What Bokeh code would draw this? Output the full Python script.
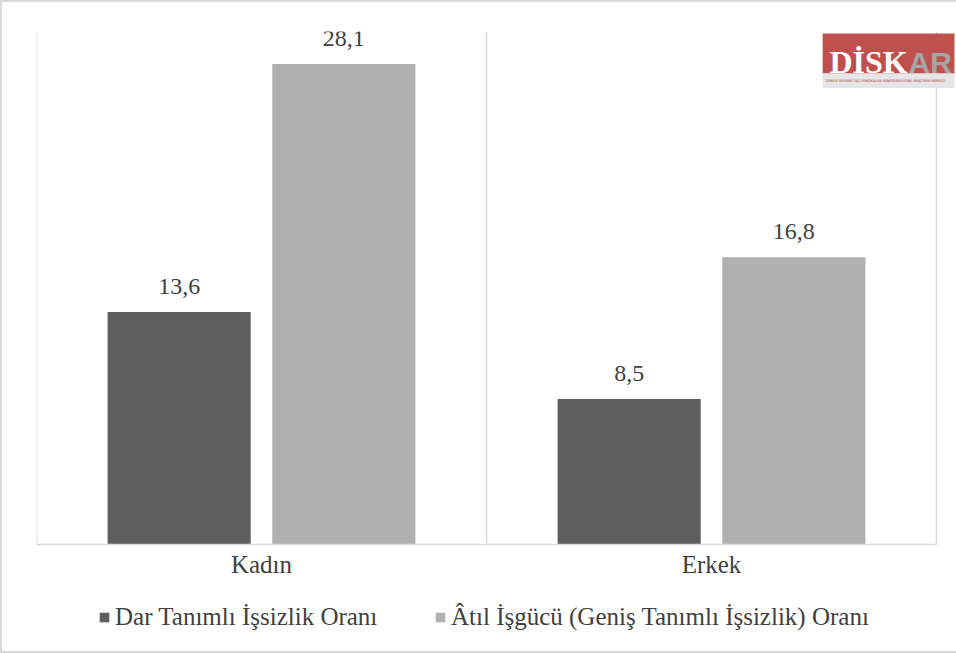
from bokeh.plotting import figure
from bokeh.models import Range1d, FixedTicker, ColumnDataSource, LabelSet, Legend, LegendItem, Label
from bokeh.transform import dodge
from bokeh.core.properties import value
from bokeh.embed import file_html
from bokeh.resources import INLINE

categories = ["Kadın", "Erkek"]
dar = [13.6, 8.5]
atil = [28.1, 16.8]
series_names = ["Dar Tanımlı İşsizlik Oranı", "Âtıl İşgücü (Geniş Tanımlı İşsizlik) Oranı"]

FONT = "Liberation Serif"
DARK = "#5e5e5e"
LIGHT = "#b0b0b0"
TXT = "#404040"
GRID = "#d9d9d9"

n = len(categories)
xs = [i + 0.5 for i in range(n)]
src = ColumnDataSource(dict(
    x=xs, dar=dar, atil=atil,
    dar_lbl=[f"{v:.1f}".replace(".", ",") for v in dar],
    atil_lbl=[f"{v:.1f}".replace(".", ",") for v in atil],
))

YMAX = 30
p = figure(frame_width=918, frame_height=620, output_backend="svg", toolbar_location=None,
           x_range=Range1d(0, n + 0.04), y_range=Range1d(-6.26, YMAX),
           min_border_left=34, min_border_right=2, min_border_top=29, min_border_bottom=0)
p.outline_line_color = None
p.background_fill_color = "white"
p.border_fill_color = "white"
p.styles = {"border-left": f"2px solid {GRID}", "border-top": f"2px solid {GRID}",
            "border-bottom": f"2px solid {GRID}"}
p.xgrid.grid_line_color = None
p.ygrid.grid_line_color = None
p.yaxis.visible = False

# category separators
seps = list(range(n + 1))
p.segment(x0=seps, x1=seps, y0=[0] * len(seps), y1=[YMAX] * len(seps), line_color=GRID, line_width=1.5)

W = 0.318
OFF = 0.183
r1 = p.vbar(x=dodge("x", -OFF, range=p.x_range), top="dar", width=W, source=src,
            fill_color=DARK, line_color=None)
r2 = p.vbar(x=dodge("x", OFF, range=p.x_range), top="atil", width=W, source=src,
            fill_color=LIGHT, line_color=None)

for col, off in (("dar", -OFF), ("atil", OFF)):
    ls = LabelSet(x=dodge("x", off, range=p.x_range), y=col, text=col + "_lbl", source=src,
                  text_align="center", text_baseline="alphabetic", y_offset=18,
                  text_font=value(FONT), text_font_size="24px", text_color=TXT)
    p.add_layout(ls)

ax = p.xaxis[0]
ax.fixed_location = 0
ax.bounds = (0, n)
ax.ticker = FixedTicker(ticks=xs)
ax.major_label_overrides = {x: c for x, c in zip(xs, categories)}
ax.axis_line_color = GRID
ax.axis_line_width = 1.5
ax.major_tick_line_color = None
ax.minor_tick_line_color = None
ax.major_label_text_font = FONT
ax.major_label_text_font_size = "25px"
ax.major_label_text_color = TXT
ax.major_label_standoff = 1

# logo
p.quad(left=[1.747], right=[2.1], bottom=[27.54], top=[29.88], fill_color="#c0504d", line_color=None)
p.quad(left=[1.747], right=[2.1], bottom=[26.7], top=[27.54], fill_color="#e6e6e6", line_color=None)
p.add_layout(Label(x=1.762, y=28.19, text="DİSK", text_font="Liberation Serif", text_font_style="bold",
                   text_font_size="32px", text_color="white", text_baseline="alphabetic"))
p.add_layout(Label(x=1.938, y=28.19, text="AR", text_font="Liberation Sans", text_font_style="bold",
                   text_font_size="30px", text_color="#a6a6a6", text_baseline="alphabetic"))
p.add_layout(Label(x=1.752, y=27.12, text="TÜRKİYE DEVRİMCİ İŞÇİ SENDİKALARI KONFEDERASYONU ARAŞTIRMA MERKEZİ",
                   text_font="DejaVu Sans Condensed",
                   text_font_size="3.4px", text_color="#a03a38", text_baseline="middle"))

legend = Legend(items=[LegendItem(label=series_names[0], renderers=[r1]),
                       LegendItem(label=series_names[1], renderers=[r2])],
                orientation="horizontal", location=(62, 20),
                label_text_font=FONT, label_text_font_size="25px", label_text_color=TXT,
                glyph_width=12, glyph_height=12, spacing=52, label_standoff=5, label_width=267,
                border_line_color=None, background_fill_alpha=0, margin=0, padding=6)
p.add_layout(legend, "center")

open("out.html", "w").write(file_html(p, INLINE))
